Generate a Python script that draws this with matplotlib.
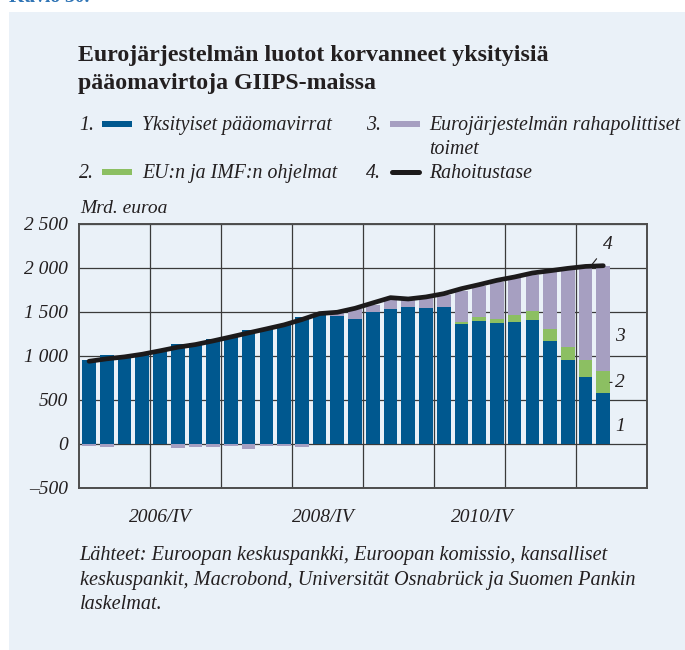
import matplotlib
matplotlib.use('Agg')
import matplotlib.pyplot as plt
import numpy as np
from matplotlib.patches import Rectangle
from matplotlib.lines import Line2D

# ---------------- data (Mrd. euroa), quarterly 2005/IV ... 2013/I ----------------
quarters = list(range(30))
private = [960, 1006, 990, 1006, 1055, 1142, 1153, 1198, 1232, 1300,
           1323, 1353, 1444, 1470, 1451, 1425, 1504, 1538, 1561, 1550,
           1561, 1368, 1402, 1380, 1391, 1414, 1176, 960, 756, 575]
eu_imf = [0, 0, 0, 0, 0, 0, 0, 0, 0, 0,
          0, 0, 0, 0, 0, 0, 0, 0, 0, 0,
          0, 23, 38, 45, 79, 94, 128, 140, 193, 253]
eurosystem = [-23, -37, 0, 0, 0, -45, -37, -37, -23, -57,
              -27, -27, -37, 0, 39, 113, 80, 102, 72, 105,
              136, 352, 351, 416, 417, 408, 646, 881, 1058, 1198]
balance = [940, 968, 990, 1020, 1059, 1100, 1130, 1172, 1217, 1263,
           1308, 1354, 1414, 1482, 1497, 1542, 1603, 1663, 1648, 1671,
           1708, 1765, 1811, 1860, 1898, 1943, 1969, 1996, 2018, 2026]

xtick_labels = ['2006/IV', '2008/IV', '2010/IV']
xtick_pos = [4.0, 13.2, 22.2]
yticks = [-500, 0, 500, 1000, 1500, 2000, 2500]
ytick_labels = ['–500', '0', '500', '1 000', '1 500', '2 000', '2 500']

legend_labels = ['Yksityiset pääomavirrat', 'EU:n ja IMF:n ohjelmat',
                 'Eurojärjestelmän rahapolittiset\ntoimet', 'Rahoitustase']

# ---------------- style ----------------
BLUE = '#00588f'
GREEN = '#8cbf62'
PURPLE = '#a69fc1'
LINE = '#1c1a1b'
BG = '#eaf1f8'
TXT = '#231f20'
W, H = 685, 650
FONT = 'Liberation Serif'

plt.rcParams['font.family'] = [FONT, 'DejaVu Serif']

fig = plt.figure(figsize=(W / 100, H / 100), dpi=100, facecolor='white')

def fx(px):
    return px / W

def fy(py):
    return 1 - py / H

# background panel
fig.patches.append(Rectangle((fx(9), 0), 1 - fx(9), fy(12), transform=fig.transFigure,
                             facecolor=BG, edgecolor='none', zorder=-5))
# cut-off header at top (cropped in the reference as well)
fig.text(fx(9), fy(2), 'Kuvio 30.', color='#2f74b5', fontsize=14, fontweight='bold',
         ha='left', va='baseline')

# title
fig.text(fx(78), fy(61), 'Eurojärjestelmän luotot korvanneet yksityisiä',
         fontsize=17.2, fontweight='bold', color=TXT, ha='left', va='baseline')
fig.text(fx(78), fy(89), 'pääomavirtoja GIIPS-maissa',
         fontsize=17.2, fontweight='bold', color=TXT, ha='left', va='baseline')

# legend (manual)
LFS = 14.3
def leg_item(num, numx, swx, txtx, base_py, color, label, is_line=False):
    fig.text(fx(numx), fy(base_py), num, fontsize=LFS, style='italic', color=TXT,
             ha='left', va='baseline')
    cy = base_py - 6
    if is_line:
        fig.lines.append(Line2D([fx(swx + 2), fx(swx + 29)], [fy(cy), fy(cy)],
                                transform=fig.transFigure, color=LINE, lw=3.6,
                                solid_capstyle='round'))
    else:
        fig.patches.append(Rectangle((fx(swx), fy(cy + 3)), fx(30), 6 / H,
                                     transform=fig.transFigure, facecolor=color,
                                     edgecolor='none'))
    lines = label.split('\n')
    for k, ln in enumerate(lines):
        fig.text(fx(txtx), fy(base_py + 24 * k), ln, fontsize=LFS, style='italic',
                 color=TXT, ha='left', va='baseline')

leg_item('1.', 79, 102, 142, 130, BLUE, legend_labels[0])
leg_item('2.', 79, 102, 142, 178, GREEN, legend_labels[1])
leg_item('3.', 366, 390, 429, 130, PURPLE, legend_labels[2])
leg_item('4.', 366, 390, 429, 178, LINE, legend_labels[3], is_line=True)

# axes
ax = fig.add_axes([fx(79.3), fy(488), fx(646.7) - fx(79.3), fy(224) - fy(488)])
ax.set_facecolor(BG)

x = np.array(quarters)
p = np.array(private, dtype=float)
g = np.array(eu_imf, dtype=float)
e = np.array(eurosystem, dtype=float)
bw = 0.77
ax.bar(x, p, width=bw, color=BLUE, zorder=2, linewidth=0)
ax.bar(x, g, bottom=p, width=bw, color=GREEN, zorder=2, linewidth=0)
ax.bar(x, e, bottom=np.where(e >= 0, p + g, 0), width=bw, color=PURPLE, zorder=2, linewidth=0)
ax.plot(x, balance, color=LINE, lw=3.4, solid_capstyle='round', solid_joinstyle='round', zorder=4)

ax.set_xlim(-0.55, 31.45)
ax.set_ylim(-500, 2500)
ax.set_yticks(yticks)
ax.set_yticklabels(ytick_labels)
ax.set_xticks(xtick_pos)
ax.set_xticklabels(xtick_labels)
ax.set_xticks(np.arange(3.45, 31, 4.0), minor=True)
ax.tick_params(which='both', length=0)
ax.tick_params(axis='y', pad=8, labelsize=14, labelcolor=TXT)
ax.tick_params(axis='x', pad=15, labelsize=14, labelcolor=TXT)
for lab in ax.get_xticklabels() + ax.get_yticklabels():
    lab.set_fontstyle('italic')
ax.grid(axis='y', which='major', color='#3a3a3a', lw=0.9, zorder=1)
ax.grid(axis='x', which='minor', color='#3a3a3a', lw=0.9, zorder=1)
ax.grid(axis='x', which='major', visible=False)
ax.set_axisbelow(True)
for s in ax.spines.values():
    s.set_color('#4d4d4d')
    s.set_linewidth(1.4)

# series number annotations
AFS = 14
ax.annotate('4', xy=(28.36, 2038), xytext=(29.25, 2265), fontsize=AFS, style='italic',
            color=TXT, ha='center', va='center',
            arrowprops=dict(arrowstyle='-', lw=0.8, color=TXT, shrinkA=4, shrinkB=0))
ax.text(29.93, 1221, '3', fontsize=AFS, style='italic', color=TXT, ha='center', va='center')
ax.annotate('2', xy=(29.37, 700), xytext=(29.93, 700), fontsize=AFS, style='italic',
            color=TXT, ha='center', va='center',
            arrowprops=dict(arrowstyle='-', lw=0.8, color=TXT, shrinkA=4, shrinkB=0))
ax.text(29.96, 204, '1', fontsize=AFS, style='italic', color=TXT, ha='center', va='center')

# y unit label
fig.text(fx(80), fy(213), 'Mrd. euroa', fontsize=14, style='italic', color=TXT,
         ha='left', va='baseline')

# footnote
foot = ['Lähteet: Euroopan keskuspankki, Euroopan komissio, kansalliset',
        'keskuspankit, Macrobond, Universität Osnabrück ja Suomen Pankin',
        'laskelmat.']
for k, ln in enumerate(foot):
    fig.text(fx(79.5), fy(560 + 24.5 * k), ln, fontsize=14.6, style='italic', color=TXT,
             ha='left', va='baseline')

fig.savefig('out.png', dpi=100, facecolor='white')
